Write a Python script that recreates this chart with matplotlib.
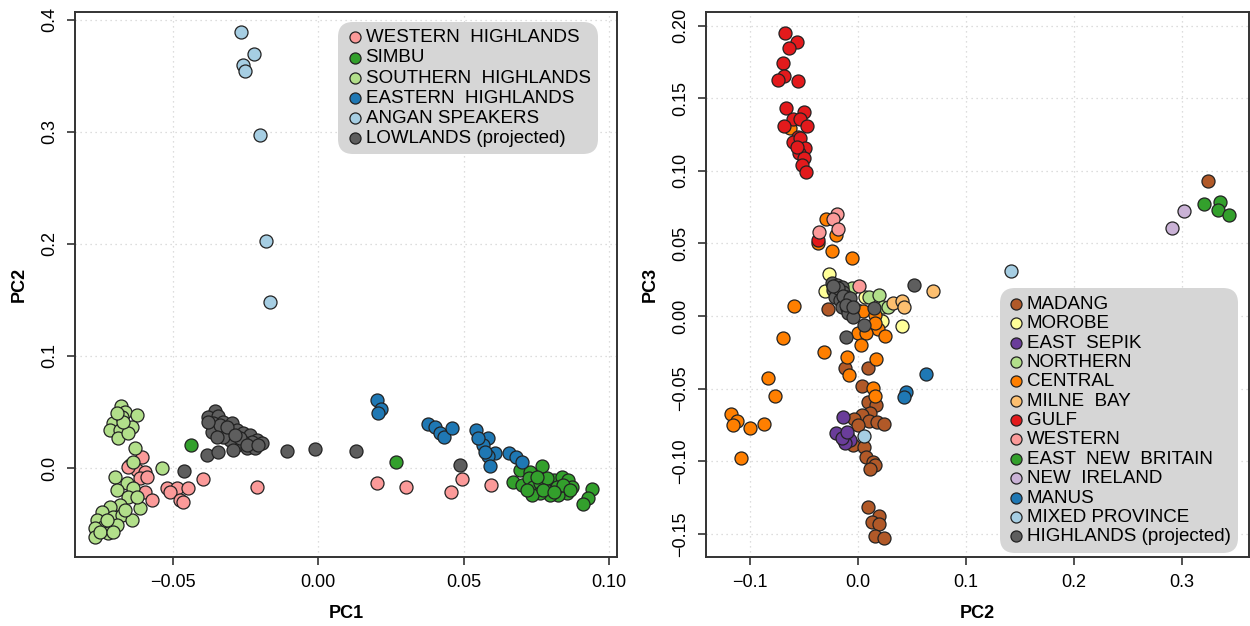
import matplotlib
matplotlib.use("Agg")
import matplotlib.pyplot as plt

plt.rcParams['font.family'] = ['Liberation Sans', 'DejaVu Sans']

# ---- left panel: PC1 vs PC2 ----
west_hl_x = [-0.0606, -0.0646, -0.0623, -0.0595, -0.0612, -0.0589, -0.0595, -0.0571, -0.0520, -0.0486,
             -0.0446, -0.0509, -0.0474, -0.0463, -0.0394, -0.0211, 0.0202, 0.0301, 0.0456, 0.0494, 0.0593, -0.0653]
west_hl_y = [0.0101, 0.0027, -0.0018, -0.0033, -0.0092, -0.0078, -0.0212, -0.0286, -0.0181, -0.0181,
             -0.0181, -0.0212, -0.0286, -0.0301, -0.0098, -0.0167, -0.0131, -0.0167, -0.0214, -0.0101, -0.0152, 0.0009]

simbu_x = [-0.0437, 0.0268, 0.0694, 0.0729, 0.0769, 0.0671, 0.0700, 0.0723, 0.0740, 0.0763, 0.0791, 0.0809,
           0.0837, 0.0860, 0.0872, 0.0855, 0.0826, 0.0797, 0.0763, 0.0734, 0.0786, 0.0820, 0.0843, 0.0866,
           0.0774, 0.0717, 0.0809, 0.0752, 0.0941, 0.0929, 0.0910]
simbu_y = [0.0203, 0.0051, -0.0018, -0.0033, 0.0018, -0.0122, -0.0152, -0.0092, -0.0167, -0.0137, -0.0167, -0.0107,
           -0.0078, -0.0107, -0.0167, -0.0226, -0.0241, -0.0241, -0.0226, -0.0241, -0.0092, -0.0167, -0.0152, -0.0196,
           -0.0196, -0.0196, -0.0212, -0.0078, -0.0190, -0.0271, -0.0321]

south_hl_x = [-0.0678, -0.0663, -0.0623, -0.0703, -0.0675, -0.0640, -0.0715, -0.0680, -0.0686, -0.0652, -0.0669, -0.0692,
              -0.0629, -0.0635, -0.0537, -0.0698, -0.0657, -0.0692, -0.0635, -0.0652, -0.0612, -0.0680, -0.0715, -0.0743,
              -0.0703, -0.0675, -0.0640, -0.0760, -0.0738, -0.0766, -0.0721, -0.0766, -0.0692, -0.0623, -0.0663, -0.0726,
              -0.0749, -0.0703]
south_hl_y = [0.0554, 0.0503, 0.0473, 0.0399, 0.0453, 0.0369, 0.0339, 0.0339, 0.0265, 0.0310, 0.0413, 0.0488,
              0.0176, 0.0056, -0.0003, -0.0078, -0.0137, -0.0196, -0.0181, -0.0256, -0.0360, -0.0330, -0.0346, -0.0390,
              -0.0435, -0.0420, -0.0464, -0.0464, -0.0524, -0.0538, -0.0583, -0.0613, -0.0509, -0.0256, -0.0375, -0.0464,
              -0.0569, -0.0569]

east_hl_x = [0.0202, 0.0215, 0.0207, 0.0376, 0.0402, 0.0419, 0.0433, 0.0459, 0.0543, 0.0585, 0.0566, 0.0608,
             0.0585, 0.0591, 0.0657, 0.0680, 0.0700, 0.0551, 0.0574]
east_hl_y = [0.0607, 0.0524, 0.0488, 0.0390, 0.0369, 0.0315, 0.0274, 0.0354, 0.0339, 0.0265, 0.0205, 0.0137,
             0.0107, 0.0018, 0.0131, 0.0096, 0.0056, 0.0265, 0.0146]

angan_x = [-0.0265, -0.0220, -0.0258, -0.0251, -0.0199, -0.0179, -0.0165]
angan_y = [0.389, 0.369, 0.360, 0.354, 0.297, 0.203, 0.148]

lowland_x = [-0.0354, -0.0377, -0.0343, -0.0360, -0.0325, -0.0297, -0.0314, -0.0348, -0.0279, -0.0257, -0.0234,
             -0.0211, -0.0193, -0.0228, -0.0257, -0.0279, -0.0302, -0.0325, -0.0291, -0.0245, -0.0216, -0.0268,
             -0.0365, -0.0337, -0.0314, -0.0377, -0.0245, -0.0205, -0.0285, -0.0348,
             -0.0382, -0.0343, -0.0108, -0.0010, 0.0131, -0.0459, 0.0489]
lowland_y = [0.0512, 0.0453, 0.0464, 0.0399, 0.0413, 0.0404, 0.0339, 0.0339, 0.0339, 0.0310, 0.0295,
             0.0250, 0.0221, 0.0235, 0.0235, 0.0205, 0.0250, 0.0279, 0.0161, 0.0176, 0.0176, 0.0265,
             0.0324, 0.0384, 0.0369, 0.0413, 0.0205, 0.0205, 0.0295, 0.0279,
             0.0116, 0.0146, 0.0154, 0.0170, 0.0154, -0.0024, 0.0029]

# ---- right panel: PC2 vs PC3 ----
madang_x = [0.3244, -0.0281, -0.0120, 0.0096, 0.0034, 0.0096, 0.0167, 0.0111, 0.0034, -0.0037, 0.0105, 0.0173,
            0.0241, 0.0003, -0.0049, 0.0056, 0.0074, 0.0142, 0.0157, 0.0111, 0.0096, 0.0197, 0.0127, 0.0197,
            0.0157, 0.0241, -0.0130]
madang_y = [0.0932, 0.0048, -0.0360, -0.0356, -0.0482, -0.0590, -0.0613, -0.0670, -0.0682, -0.0709, -0.0721, -0.0728,
            -0.0744, -0.0751, -0.0888, -0.0904, -0.0969, -0.1003, -0.1026, -0.1056, -0.1313, -0.1375, -0.1416, -0.1432,
            -0.1515, -0.1531, -0.0854]

morobe_x = [-0.0269, -0.0306, 0.0065, 0.0219, 0.0410, -0.0006]
morobe_y = [0.0289, 0.0174, 0.0129, -0.0032, -0.0067, 0.0041]

east_sepik_x = [-0.0136, -0.0204, -0.0105, -0.0074, -0.0120, -0.0151, -0.0099]
east_sepik_y = [-0.0693, -0.0803, -0.0820, -0.0854, -0.0877, -0.0842, -0.0797]

northern_x = [-0.0058, 0.0105, 0.0197, 0.0229, 0.0281]
northern_y = [0.0191, 0.0129, 0.0145, 0.0060, 0.0064]

central_x = [-0.0630, -0.0296, -0.0204, -0.0367, -0.0238, -0.0058, -0.0590, 0.0049, 0.0157, 0.0136, 0.0188,
             0.0003, 0.0074, 0.0250, 0.0025, -0.0692, -0.0315, -0.0105, 0.0164, -0.0080, 0.0136, 0.0157,
             -0.0836, -0.0769, -0.1179, -0.1123, -0.1160, -0.1000, -0.0870, -0.1086, 0.0157]
central_y = [0.1293, 0.0668, 0.0560, 0.0505, 0.0450, 0.0397, 0.0071, 0.0037, 0.0007, -0.0069, -0.0092,
             -0.0115, -0.0119, -0.0138, -0.0200, -0.0154, -0.0250, -0.0280, -0.0298, -0.0406, -0.0498, -0.0551,
             -0.0429, -0.0549, -0.0675, -0.0721, -0.0751, -0.0773, -0.0744, -0.0976, -0.0050]

milne_x = [0.0327, 0.0405, 0.0426, 0.0698]
milne_y = [0.0087, 0.0105, 0.0060, 0.0172]

gulf_x = [-0.0676, -0.0568, -0.0636, -0.0692, -0.0685, -0.0744, -0.0558, -0.0667, -0.0500, -0.0605, -0.0537,
          -0.0685, -0.0475, -0.0553, -0.0599, -0.0537, -0.0491, -0.0544, -0.0500, -0.0521, -0.0481, -0.0568, -0.0373]
gulf_y = [0.1951, 0.1889, 0.1844, 0.1740, 0.1653, 0.1625, 0.1621, 0.1430, 0.1407, 0.1355, 0.1355,
          0.1309, 0.1309, 0.1235, 0.1200, 0.1224, 0.1155, 0.1125, 0.1086, 0.1040, 0.0990, 0.1166, 0.0523]

western_x = [-0.0191, -0.0235, -0.0182, -0.0358, 0.0012]
western_y = [0.0702, 0.0666, 0.0597, 0.0581, 0.0209]

enb_x = [0.3207, 0.3352, 0.3336, 0.3435]
enb_y = [0.0771, 0.0785, 0.0730, 0.0696]

new_ireland_x = [0.3016, 0.2910]
new_ireland_y = [0.0725, 0.0608]

manus_x = [0.0627, 0.0444, 0.0426]
manus_y = [-0.0402, -0.0526, -0.0556]

mixed_x = [0.1417, 0.0059]
mixed_y = [0.0310, -0.0826]

highland_x = [-0.0244, -0.0197, -0.0151, -0.0229, -0.0182, -0.0136, -0.0105, -0.0213, -0.0167, -0.0120, -0.0074,
              -0.0151, -0.0105, -0.0058, -0.0090, -0.0044, -0.0182, -0.0136, -0.0074, -0.0229, -0.0111, -0.0044,
              0.0521, 0.0148, 0.0056, -0.0114]
highland_y = [0.0229, 0.0213, 0.0202, 0.0179, 0.0156, 0.0167, 0.0133, 0.0133, 0.0110, 0.0098, 0.0087,
              0.0064, 0.0053, 0.0041, 0.0019, -0.0005, 0.0191, 0.0138, 0.0122, 0.0207, 0.0076, 0.0064,
              0.0213, 0.0053, -0.0062, -0.0142]

left_groups = [
    ("WESTERN  HIGHLANDS", west_hl_x, west_hl_y, "#FB9A99"),
    ("SIMBU", simbu_x, simbu_y, "#33A02C"),
    ("SOUTHERN  HIGHLANDS", south_hl_x, south_hl_y, "#B2DF8A"),
    ("EASTERN  HIGHLANDS", east_hl_x, east_hl_y, "#1F78B4"),
    ("ANGAN SPEAKERS", angan_x, angan_y, "#A6CEE3"),
    ("LOWLANDS (projected)", lowland_x, lowland_y, "#5E5E5E"),
]

right_groups = [
    ("MADANG", madang_x, madang_y, "#B15928"),
    ("MOROBE", morobe_x, morobe_y, "#FFFF99"),
    ("EAST  SEPIK", east_sepik_x, east_sepik_y, "#6A3D9A"),
    ("NORTHERN", northern_x, northern_y, "#B2DF8A"),
    ("CENTRAL", central_x, central_y, "#FF7F00"),
    ("MILNE  BAY", milne_x, milne_y, "#FDBF6F"),
    ("GULF", gulf_x, gulf_y, "#E31A1C"),
    ("WESTERN", western_x, western_y, "#FB9A99"),
    ("EAST  NEW  BRITAIN", enb_x, enb_y, "#33A02C"),
    ("NEW  IRELAND", new_ireland_x, new_ireland_y, "#CAB2D6"),
    ("MANUS", manus_x, manus_y, "#1F78B4"),
    ("MIXED PROVINCE", mixed_x, mixed_y, "#A6CEE3"),
    ("HIGHLANDS (projected)", highland_x, highland_y, "#5E5E5E"),
]

fig = plt.figure(figsize=(12.5, 6.26), dpi=100)
ax1 = fig.add_axes([0.06, 0.110, 0.4336, 0.871])
ax2 = fig.add_axes([0.5648, 0.110, 0.4344, 0.871])


def style_axis(ax, xticks, xlabels, yticks, ylabels, xlabel, ylabel):
    ax.set_xticks(xticks)
    ax.set_xticklabels(xlabels)
    ax.set_yticks(yticks)
    ax.set_yticklabels(ylabels, rotation=90, va='center')
    ax.grid(True, color='#d2d2d2', linestyle=(0, (1, 3)), linewidth=0.9)
    ax.set_axisbelow(True)
    for s in ax.spines.values():
        s.set_linewidth(1.4)
        s.set_color('#333333')
    ax.tick_params(direction='out', length=6, width=1.2, color='#333333', labelsize=13, pad=6)
    ax.set_xlabel(xlabel, fontsize=13, fontweight='bold', labelpad=10)
    ax.set_ylabel(ylabel, fontsize=13, fontweight='bold', labelpad=10)


for name, xs, ys, col in left_groups:
    ax1.scatter(xs, ys, s=88, c=col, edgecolors='#222222', linewidths=0.9, label=name, zorder=3)
ax1.set_xlim(-0.0835, 0.1027)
ax1.set_ylim(-0.0795, 0.407)
style_axis(ax1, [-0.05, 0.0, 0.05, 0.10], ['\u22120.05', '0.00', '0.05', '0.10'],
           [0.0, 0.1, 0.2, 0.3, 0.4], ['0.0', '0.1', '0.2', '0.3', '0.4'], 'PC1', 'PC2')
leg1 = ax1.legend(loc='upper right', bbox_to_anchor=(0.965, 0.982), borderaxespad=0, fontsize=13.5,
                  frameon=True, fancybox=True, facecolor='#d6d6d6', edgecolor='none', framealpha=1,
                  handletextpad=0.05, labelspacing=0.16, borderpad=0.4, handlelength=1.0, markerscale=0.85)

for name, xs, ys, col in right_groups:
    ax2.scatter(xs, ys, s=88, c=col, edgecolors='#222222', linewidths=0.9, label=name, zorder=3)
ax2.set_xlim(-0.1407, 0.362)
ax2.set_ylim(-0.166, 0.2094)
style_axis(ax2, [-0.1, 0.0, 0.1, 0.2, 0.3], ['\u22120.1', '0.0', '0.1', '0.2', '0.3'],
           [-0.15, -0.10, -0.05, 0.0, 0.05, 0.10, 0.15, 0.20],
           ['\u22120.15', '\u22120.10', '\u22120.05', '0.00', '0.05', '0.10', '0.15', '0.20'], 'PC2', 'PC3')
leg2 = ax2.legend(loc='lower right', bbox_to_anchor=(0.98, 0.008), borderaxespad=0, fontsize=13.5,
                  frameon=True, fancybox=True, facecolor='#d6d6d6', edgecolor='none', framealpha=1,
                  handletextpad=0.05, labelspacing=0.12, borderpad=0.4, handlelength=1.0, markerscale=0.85)
for leg in (leg1, leg2):
    leg.set_zorder(5)
    leg.get_frame().set_boxstyle('round', pad=0, rounding_size=0.8)

fig.savefig('out.png', dpi=100)
